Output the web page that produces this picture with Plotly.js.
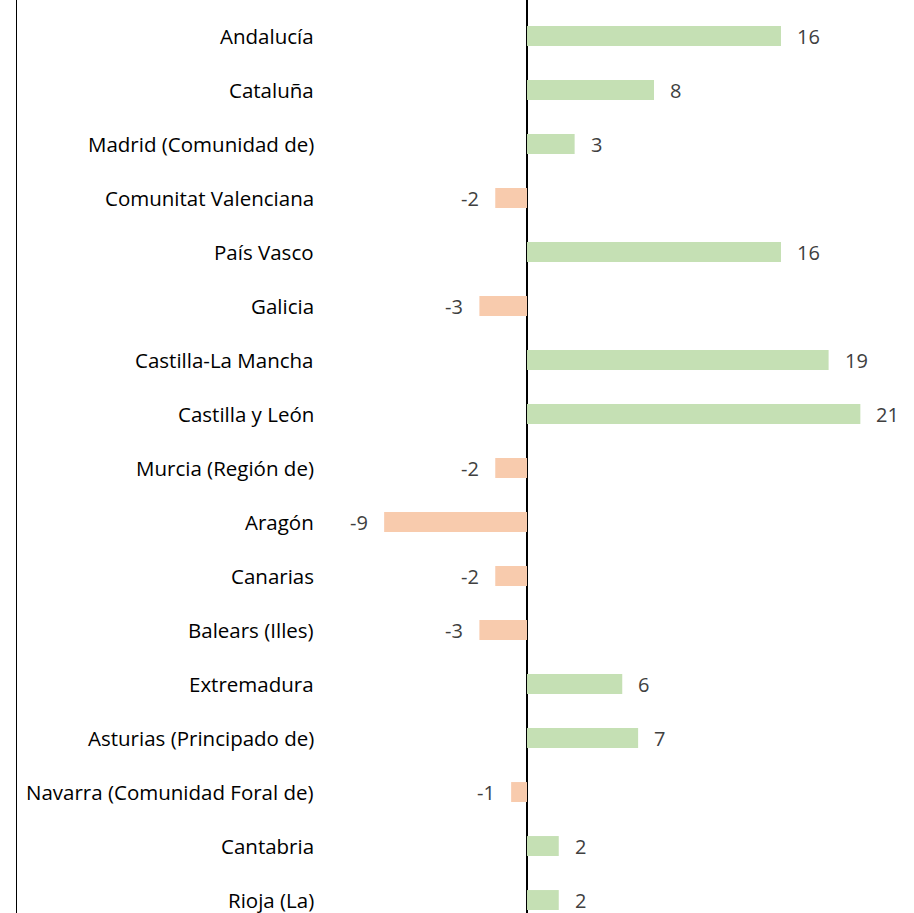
<!DOCTYPE html>
<html><head><meta charset="utf-8">
<script src="https://cdn.plot.ly/plotly-3.0.1.min.js"></script>
<style>html,body{margin:0;padding:0;background:#fff}#chart{width:914px;height:913px}</style>
</head><body><div id="chart"></div>
<script>
const regions = ["Andalucía","Cataluña","Madrid (Comunidad de)","Comunitat Valenciana","País Vasco","Galicia","Castilla-La Mancha","Castilla y León","Murcia (Región de)","Aragón","Canarias","Balears (Illes)","Extremadura","Asturias (Principado de)","Navarra (Comunidad Foral de)","Cantabria","Rioja (La)"];
const values = [16,8,3,-2,16,-3,19,21,-2,-9,-2,-3,6,7,-1,2,2];
const posColor = "#C5E0B4", negColor = "#F8CBAD";

const FONT = "'Open Sans', 'Noto Sans', sans-serif";
const trace = {
  type: "bar", orientation: "h", y: regions, x: values,
  marker: {color: values.map(v => v >= 0 ? posColor : negColor)},
  hoverinfo: "skip"
};
const ann = [];
regions.forEach((r, i) => {
  ann.push({xref: "paper", x: 0.333, y: r, yref: "y", text: r, showarrow: false,
    xanchor: "right", font: {family: FONT, size: 20.5, color: "#000"}});
  const v = values[i];
  ann.push({x: v, y: r, xref: "x", yref: "y", text: String(v), showarrow: false,
    xanchor: v >= 0 ? "left" : "right", xshift: v >= 0 ? 14 : -14,
    font: {family: FONT, size: 20, color: "#404040"}});
});
const layout = {
  width: 914, height: 913,
  margin: {l: 17, r: 0, t: 0, b: 0},
  paper_bgcolor: "#fff", plot_bgcolor: "#fff",
  bargap: 0.63, showlegend: false,
  xaxis: {range: [-32.13, 24.38], showgrid: false, zeroline: true, zerolinecolor: "#000", zerolinewidth: 1.5,
    showticklabels: false, ticks: "", showline: false, fixedrange: true},
  yaxis: {type: "category", range: [16.24, -0.667], showticklabels: false, ticks: "", showgrid: false,
    zeroline: false, showline: true, linecolor: "#000", linewidth: 1.5, mirror: false},
  annotations: ann
};
Plotly.newPlot("chart", [trace], layout, {displayModeBar: false, staticPlot: true});
</script></body></html>
